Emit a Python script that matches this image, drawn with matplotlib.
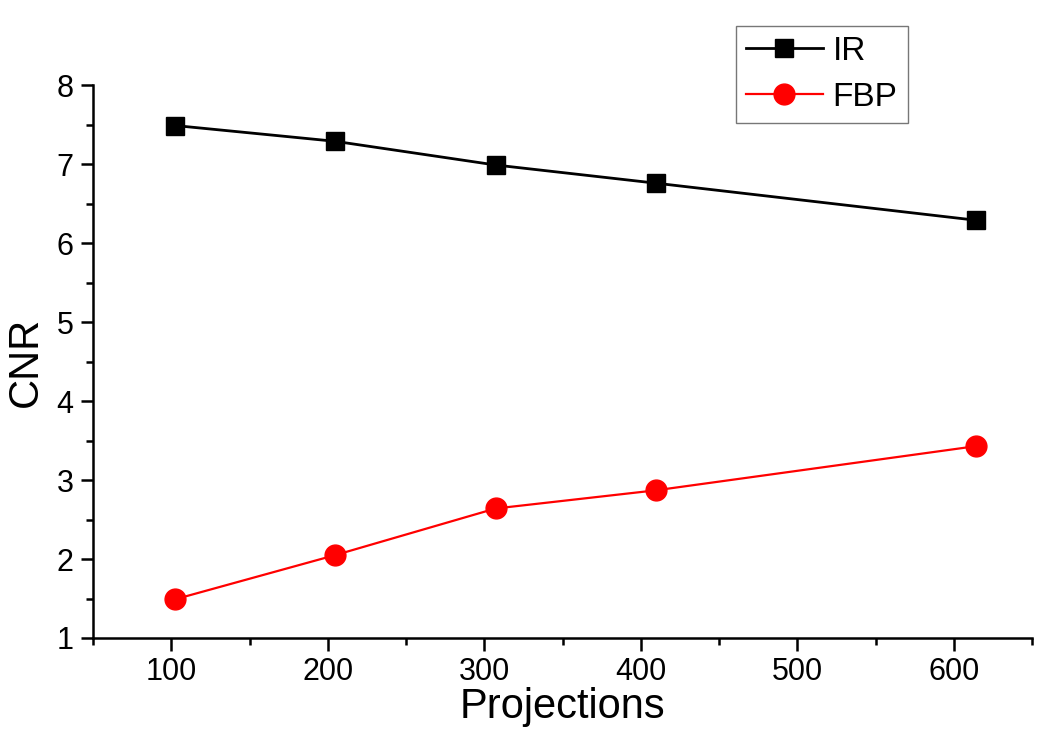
import matplotlib.pyplot as plt
from matplotlib.ticker import MultipleLocator

plt.rcParams['font.family'] = ['Liberation Sans', 'DejaVu Sans']

projections = [102.4, 204.8, 307.2, 409.6, 614.4]
cnr_ir = [7.49, 7.29, 6.99, 6.76, 6.29]
cnr_fbp = [1.49, 2.05, 2.64, 2.87, 3.43]

fig = plt.figure(figsize=(10.5, 7.35), dpi=100)
ax = fig.add_axes([0.0886, 0.132, 0.8944, 0.752])

ax.plot(projections, cnr_ir, color='black', lw=2.0, marker='s', markersize=13.5, label='IR')
ax.plot(projections, cnr_fbp, color='red', lw=1.6, marker='o', markersize=15, label='FBP')

ax.set_xlim(50, 650)
ax.set_ylim(1, 8)
ax.xaxis.set_major_locator(MultipleLocator(100))
ax.xaxis.set_minor_locator(MultipleLocator(50))
ax.yaxis.set_major_locator(MultipleLocator(1))
ax.yaxis.set_minor_locator(MultipleLocator(0.5))
ax.spines['top'].set_visible(False)
ax.spines['right'].set_visible(False)
for s in ['left', 'bottom']:
    ax.spines[s].set_linewidth(1.8)
ax.tick_params(which='major', direction='out', length=9, width=1.8, labelsize=22, pad=5)
ax.tick_params(which='minor', direction='out', length=5, width=1.8)

ax.set_xlabel('Projections', fontsize=30, labelpad=0)
ax.set_ylabel('CNR', fontsize=30, labelpad=8)

leg = ax.legend(loc='upper left', bbox_to_anchor=(736 / 1050, 1 - 26 / 735),
                bbox_transform=fig.transFigure, borderaxespad=0, fontsize=24,
                frameon=True, fancybox=False, edgecolor='#555555',
                handlelength=2.3, handletextpad=0.3, borderpad=0.3, labelspacing=0.45)
leg.get_frame().set_linewidth(1.0)

plt.savefig('out.png', dpi=100)
